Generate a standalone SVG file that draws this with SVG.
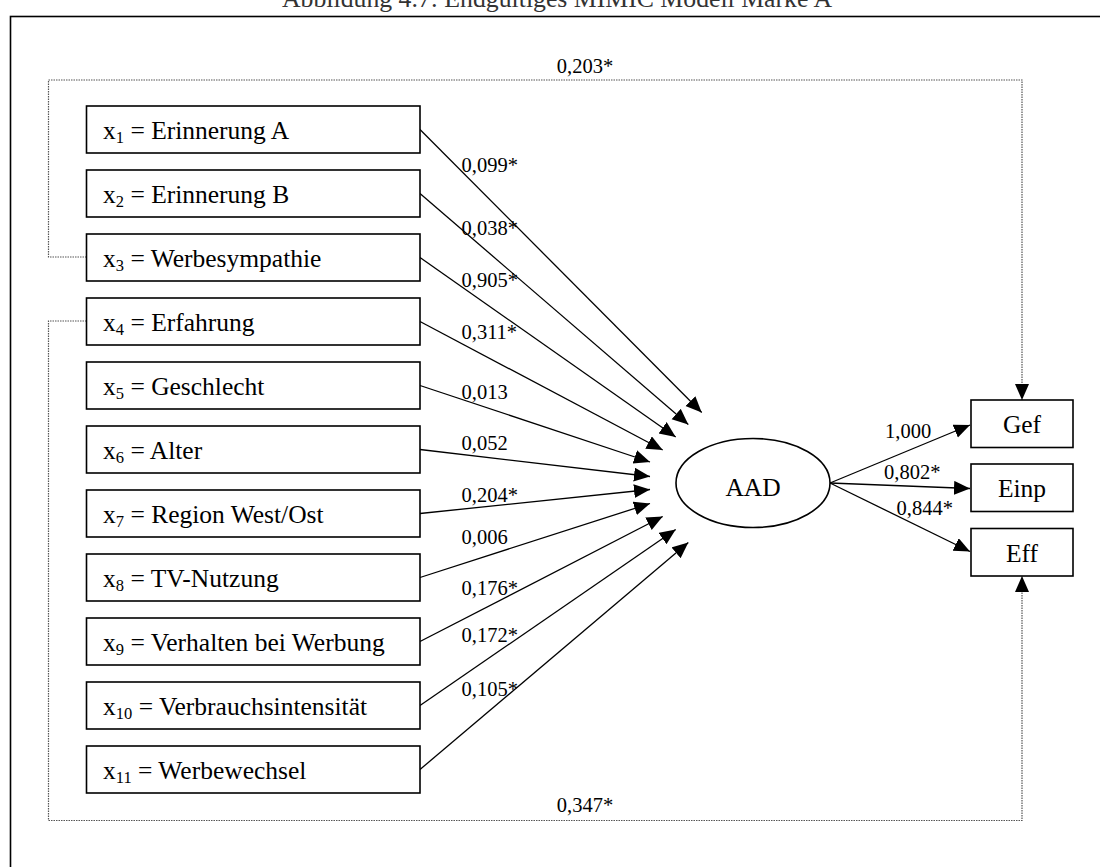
<svg xmlns="http://www.w3.org/2000/svg" width="1100" height="867" viewBox="0 0 1100 867">
<style>
  .box { fill: #fff; stroke: #000; stroke-width: 1.6; }
  .node { font-family: "Liberation Serif", "Times New Roman", serif; font-size: 25.5px; fill: #000; }
  .sub { font-size: 16.5px; }
  .lbl { font-family: "Liberation Serif", "Times New Roman", serif; font-size: 20.5px; fill: #000; }
  .edge { stroke: #000; stroke-width: 1.3; fill: none; }
  .dot { stroke: #555; stroke-width: 1.2; stroke-dasharray: 1.5 1; fill: none; }
  .title { font-family: "Liberation Serif", "Times New Roman", serif; font-size: 26px; fill: #333; }
</style>
<defs>
  <marker id="arr" markerUnits="userSpaceOnUse" markerWidth="17" markerHeight="15" refX="16" refY="7" orient="auto">
    <path d="M0,0 L16,7 L0,14 z" fill="#000"/>
  </marker>
</defs>
<rect width="1100" height="867" fill="#fff"/>
<text class="title" x="557" y="7" text-anchor="middle" textLength="550" lengthAdjust="spacingAndGlyphs">Abbildung 4.7: Endgültiges MIMIC Modell Marke A</text>
<rect x="10.5" y="16.5" width="1200" height="1000" fill="none" stroke="#000" stroke-width="1.6"/>

<g id="connectors">
  <path class="dot" d="M86.5,257 H48.5 V80 H1022 V400" marker-end="url(#arr)"/>
  <path class="dot" d="M86.5,321 H48.5 V820.5 H1022 V576" marker-end="url(#arr)"/>
  <line class="edge" x1="420" y1="129.5" x2="701.7" y2="412.5" marker-end="url(#arr)"/>
  <line class="edge" x1="420" y1="193.5" x2="688.3" y2="424.5" marker-end="url(#arr)"/>
  <line class="edge" x1="420" y1="257.5" x2="675.7" y2="437" marker-end="url(#arr)"/>
  <line class="edge" x1="420" y1="321.5" x2="662.7" y2="450" marker-end="url(#arr)"/>
  <line class="edge" x1="420" y1="385.5" x2="650" y2="462" marker-end="url(#arr)"/>
  <line class="edge" x1="420" y1="449.5" x2="650" y2="476.5" marker-end="url(#arr)"/>
  <line class="edge" x1="420" y1="513.5" x2="650" y2="489.5" marker-end="url(#arr)"/>
  <line class="edge" x1="420" y1="577.5" x2="650" y2="503.5" marker-end="url(#arr)"/>
  <line class="edge" x1="420" y1="641.5" x2="662.7" y2="516.5" marker-end="url(#arr)"/>
  <line class="edge" x1="420" y1="705.5" x2="675.7" y2="529.5" marker-end="url(#arr)"/>
  <line class="edge" x1="420" y1="769.5" x2="688.3" y2="542.5" marker-end="url(#arr)"/>
  <line class="edge" x1="830" y1="483" x2="970" y2="425" marker-end="url(#arr)"/>
  <line class="edge" x1="830" y1="483" x2="970" y2="488.5" marker-end="url(#arr)"/>
  <line class="edge" x1="830" y1="483" x2="970" y2="551.5" marker-end="url(#arr)"/>
</g>

<g id="labels">
  <text class="lbl" x="585" y="73" text-anchor="middle">0,203*</text>
  <text class="lbl" x="585" y="812" text-anchor="middle">0,347*</text>
  <text class="lbl" x="461.5" y="171.5">0,099*</text>
  <text class="lbl" x="461.5" y="235">0,038*</text>
  <text class="lbl" x="461.5" y="287">0,905*</text>
  <text class="lbl" x="461.5" y="338.5">0,311*</text>
  <text class="lbl" x="461.5" y="399">0,013</text>
  <text class="lbl" x="461.5" y="450">0,052</text>
  <text class="lbl" x="461.5" y="501.5">0,204*</text>
  <text class="lbl" x="461.5" y="543.5">0,006</text>
  <text class="lbl" x="461.5" y="594.5">0,176*</text>
  <text class="lbl" x="461.5" y="641.5">0,172*</text>
  <text class="lbl" x="461.5" y="696">0,105*</text>
  <text class="lbl" x="885" y="438">1,000</text>
  <text class="lbl" x="884" y="479">0,802*</text>
  <text class="lbl" x="896.5" y="515">0,844*</text>
</g>

<g id="x1"><rect class="box" x="86.5" y="106" width="333.5" height="47"/><text class="node" x="103" y="138.5">x<tspan class="sub" dy="4.5">1</tspan><tspan dy="-4.5"> = Erinnerung A</tspan></text></g>
<g id="x2"><rect class="box" x="86.5" y="170" width="333.5" height="47"/><text class="node" x="103" y="202.5">x<tspan class="sub" dy="4.5">2</tspan><tspan dy="-4.5"> = Erinnerung B</tspan></text></g>
<g id="x3"><rect class="box" x="86.5" y="234" width="333.5" height="47"/><text class="node" x="103" y="266.5">x<tspan class="sub" dy="4.5">3</tspan><tspan dy="-4.5"> = Werbesympathie</tspan></text></g>
<g id="x4"><rect class="box" x="86.5" y="298" width="333.5" height="47"/><text class="node" x="103" y="330.5">x<tspan class="sub" dy="4.5">4</tspan><tspan dy="-4.5"> = Erfahrung</tspan></text></g>
<g id="x5"><rect class="box" x="86.5" y="362" width="333.5" height="47"/><text class="node" x="103" y="394.5">x<tspan class="sub" dy="4.5">5</tspan><tspan dy="-4.5"> = Geschlecht</tspan></text></g>
<g id="x6"><rect class="box" x="86.5" y="426" width="333.5" height="47"/><text class="node" x="103" y="458.5">x<tspan class="sub" dy="4.5">6</tspan><tspan dy="-4.5"> = Alter</tspan></text></g>
<g id="x7"><rect class="box" x="86.5" y="490" width="333.5" height="47"/><text class="node" x="103" y="522.5">x<tspan class="sub" dy="4.5">7</tspan><tspan dy="-4.5"> = Region West/Ost</tspan></text></g>
<g id="x8"><rect class="box" x="86.5" y="554" width="333.5" height="47"/><text class="node" x="103" y="586.5">x<tspan class="sub" dy="4.5">8</tspan><tspan dy="-4.5"> = TV-Nutzung</tspan></text></g>
<g id="x9"><rect class="box" x="86.5" y="618" width="333.5" height="47"/><text class="node" x="103" y="650.5">x<tspan class="sub" dy="4.5">9</tspan><tspan dy="-4.5"> = Verhalten bei Werbung</tspan></text></g>
<g id="x10"><rect class="box" x="86.5" y="682" width="333.5" height="47"/><text class="node" x="103" y="714.5">x<tspan class="sub" dy="4.5">10</tspan><tspan dy="-4.5"> = Verbrauchsintensität</tspan></text></g>
<g id="x11"><rect class="box" x="86.5" y="746" width="333.5" height="47"/><text class="node" x="103" y="778.5">x<tspan class="sub" dy="4.5">11</tspan><tspan dy="-4.5"> = Werbewechsel</tspan></text></g>

<g id="AAD"><ellipse cx="753" cy="483" rx="77" ry="44.5" fill="#fff" stroke="#000" stroke-width="1.6"/><text class="node" x="753" y="496" text-anchor="middle">AAD</text></g>

<g id="Gef"><rect class="box" x="971" y="400" width="102" height="47.5"/><text class="node" x="1022" y="433" text-anchor="middle">Gef</text></g>
<g id="Einp"><rect class="box" x="971" y="464" width="102" height="47.5"/><text class="node" x="1022" y="497" text-anchor="middle">Einp</text></g>
<g id="Eff"><rect class="box" x="971" y="528.5" width="102" height="47.5"/><text class="node" x="1022" y="561.5" text-anchor="middle">Eff</text></g>
</svg>
